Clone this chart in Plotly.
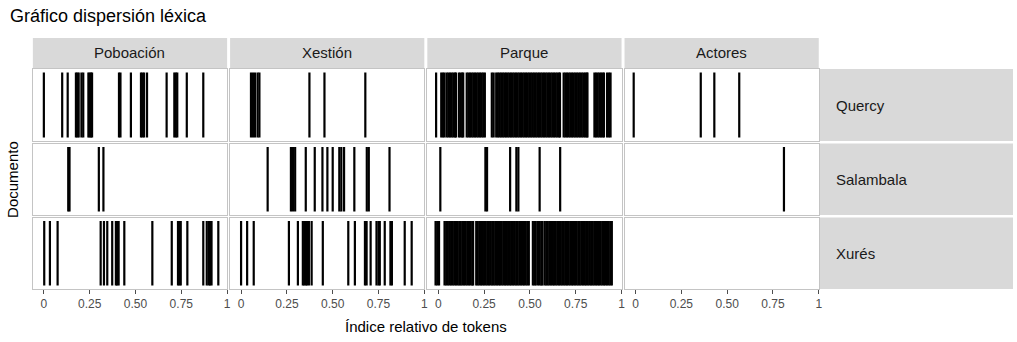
import plotly.graph_objects as go

W, H = 1017, 342

terms = ["Poboación", "Xestión", "Parque", "Actores"]
docs = ["Quercy", "Salambala", "Xurés"]
tick_vals = [0, 0.25, 0.5, 0.75, 1]
tick_text = ["0", "0.25", "0.50", "0.75", "1"]

# relative token positions per (document, term)
pob_quercy = [0.0, 0.10, 0.13, 0.175, 0.183, 0.19, 0.205, 0.215, 0.243, 0.25, 0.257, 0.263,
              0.41, 0.418, 0.475, 0.53, 0.538, 0.547, 0.563, 0.67, 0.712, 0.72, 0.728, 0.78, 0.87]
pob_salambala = [0.133, 0.14, 0.30, 0.325]
pob_xures = [0.002, 0.033, 0.075, 0.31, 0.328, 0.346, 0.373, 0.393, 0.40, 0.408, 0.439, 0.592,
             0.698, 0.732, 0.74, 0.747, 0.783, 0.87, 0.889, 0.90, 0.907, 0.915, 0.952]

xes_quercy = [0.054, 0.065, 0.076, 0.09, 0.10, 0.373, 0.455, 0.678]
xes_salambala = [0.145, 0.272, 0.283, 0.295, 0.353, 0.402, 0.444, 0.471, 0.5, 0.536, 0.547,
                 0.562, 0.618, 0.686, 0.697, 0.81]
xes_xures = [0.0, 0.033, 0.069, 0.261, 0.31, 0.337, 0.345, 0.353, 0.36, 0.37, 0.385, 0.446,
             0.585, 0.621, 0.676, 0.685, 0.707, 0.739, 0.75, 0.757, 0.784, 0.815, 0.823, 0.893, 0.931]

par_quercy = [-0.012,
              0.016, 0.025, 0.034, 0.046, 0.055, 0.064, 0.073, 0.082, 0.091, 0.096,
              0.112, 0.121, 0.130, 0.136,
              0.155, 0.164, 0.173, 0.182, 0.191, 0.200, 0.209, 0.218, 0.227, 0.236, 0.245, 0.254,
              0.292, 0.302,
              0.316, 0.325, 0.334, 0.343, 0.352, 0.361, 0.370, 0.379, 0.388, 0.397, 0.406, 0.415,
              0.424, 0.433, 0.442, 0.451, 0.460, 0.469, 0.478, 0.487, 0.496, 0.505, 0.514, 0.523,
              0.532, 0.541, 0.550, 0.559, 0.568, 0.577, 0.586, 0.595, 0.604, 0.613, 0.622, 0.631,
              0.640, 0.649, 0.658, 0.664,
              0.684, 0.693, 0.702, 0.711, 0.720, 0.729, 0.738, 0.747, 0.756, 0.765, 0.774, 0.783,
              0.792, 0.801, 0.810, 0.814,
              0.852, 0.861, 0.870, 0.879, 0.888, 0.897, 0.904,
              0.921, 0.931, 0.940]
par_salambala = [0.011, 0.257, 0.266, 0.392, 0.426, 0.437, 0.553, 0.665]
par_xures = [-0.015, -0.006, 0.004,
             0.034, 0.043, 0.052, 0.061, 0.070, 0.079, 0.088, 0.097, 0.106, 0.115, 0.122,
             0.131, 0.140, 0.149,
             0.158, 0.167, 0.176, 0.185, 0.190,
             0.207, 0.215, 0.224, 0.233, 0.241, 0.250, 0.259, 0.268, 0.276, 0.285, 0.294, 0.302,
             0.311, 0.320, 0.329, 0.337, 0.346, 0.355, 0.364, 0.372, 0.381, 0.390, 0.398, 0.407,
             0.416, 0.425, 0.433, 0.442, 0.451, 0.460, 0.468, 0.477, 0.486, 0.494,
             0.516, 0.525, 0.532,
             0.544, 0.553, 0.562, 0.568,
             0.580, 0.589, 0.597, 0.606, 0.615, 0.624, 0.632, 0.641, 0.650, 0.659, 0.667, 0.676,
             0.685, 0.694, 0.702, 0.711, 0.720, 0.729, 0.737, 0.746, 0.755, 0.764, 0.772, 0.781,
             0.790, 0.799, 0.807, 0.816, 0.825, 0.834, 0.842, 0.851, 0.860, 0.869, 0.877, 0.886,
             0.895, 0.904, 0.912, 0.921, 0.930, 0.939, 0.947]

act_quercy = [-0.01, 0.356, 0.43, 0.566]
act_salambala = [0.81]
act_xures = []

data = {
    ("Quercy", "Poboación"): pob_quercy,
    ("Salambala", "Poboación"): pob_salambala,
    ("Xurés", "Poboación"): pob_xures,
    ("Quercy", "Xestión"): xes_quercy,
    ("Salambala", "Xestión"): xes_salambala,
    ("Xurés", "Xestión"): xes_xures,
    ("Quercy", "Parque"): par_quercy,
    ("Salambala", "Parque"): par_salambala,
    ("Xurés", "Parque"): par_xures,
    ("Quercy", "Actores"): act_quercy,
    ("Salambala", "Actores"): act_salambala,
    ("Xurés", "Actores"): act_xures,
}

# layout in pixels
col_px = [(33, 228), (231, 426), (429, 624), (627, 822)]
row_px = [(69, 141), (143.5, 215), (217.5, 289)]
strip_top = (38, 68)
strip_right_x = (823, 1017)

def fx(px):
    return px / W

def fy(py):
    return 1 - py / H

FONT = "Liberation Sans, Arial, Helvetica, sans-serif"
border = "#C4C4C4"
strip_bg = "#D9D9D9"

fig = go.Figure()
layout = {}
shapes = []
annotations = []

for r, doc in enumerate(docs):
    for c, term in enumerate(terms):
        i = r * 4 + c + 1
        sfx = "" if i == 1 else str(i)
        vals = data[(doc, term)]
        xs, ys = [], []
        for v in vals:
            xs += [v, v, None]
            ys += [0.05, 0.95, None]
        fig.add_trace(go.Scatter(
            x=xs if xs else [None], y=ys if ys else [None], mode="lines",
            line=dict(color="black", width=2.2),
            xaxis="x" + sfx, yaxis="y" + sfx, showlegend=False, hoverinfo="skip"))
        bottom = (r == len(docs) - 1)
        layout["xaxis" + sfx] = dict(
            domain=[fx(col_px[c][0]), fx(col_px[c][1])],
            anchor="y" + sfx, range=[-0.06, 1.0], fixedrange=True,
            showgrid=False, zeroline=False,
            showline=True, mirror=True, linecolor=border, linewidth=1,
            tickmode="array", tickvals=tick_vals, ticktext=tick_text,
            ticks="outside" if bottom else "", ticklen=4, tickwidth=1, tickcolor="#4D4D4D",
            showticklabels=bottom,
            tickfont=dict(family=FONT, size=12, color="#4D4D4D"),
        )
        layout["yaxis" + sfx] = dict(
            domain=[fy(row_px[r][1]), fy(row_px[r][0])],
            anchor="x" + sfx, range=[0, 1], fixedrange=True,
            showgrid=False, zeroline=False, showticklabels=False, ticks="",
            showline=True, mirror=True, linecolor=border, linewidth=1,
        )

# top strips
for c, term in enumerate(terms):
    shapes.append(dict(type="rect", xref="paper", yref="paper",
                       x0=fx(col_px[c][0]), x1=fx(col_px[c][1]),
                       y0=fy(strip_top[1]), y1=fy(strip_top[0]),
                       fillcolor=strip_bg, line=dict(width=0), layer="below"))
    annotations.append(dict(xref="paper", yref="paper",
                            x=fx((col_px[c][0] + col_px[c][1]) / 2), y=fy(sum(strip_top) / 2),
                            text=term, showarrow=False, xanchor="center", yanchor="middle",
                            font=dict(family=FONT, size=15, color="#1A1A1A")))

# right strips
for r, doc in enumerate(docs):
    shapes.append(dict(type="rect", xref="paper", yref="paper",
                       x0=fx(strip_right_x[0]), x1=fx(strip_right_x[1]),
                       y0=fy(row_px[r][1]), y1=fy(row_px[r][0]),
                       fillcolor=strip_bg, line=dict(width=0), layer="below"))
    annotations.append(dict(xref="paper", yref="paper",
                            x=fx(837), y=fy(sum(row_px[r]) / 2),
                            text=doc, showarrow=False, xanchor="left", yanchor="middle",
                            font=dict(family=FONT, size=15, color="#1A1A1A")))

# titles
annotations.append(dict(xref="paper", yref="paper", x=fx(8), y=fy(16),
                        text="Gráfico dispersión léxica", showarrow=False,
                        xanchor="left", yanchor="middle",
                        font=dict(family=FONT, size=18, color="black")))
annotations.append(dict(xref="paper", yref="paper", x=fx(427.5), y=fy(326),
                        text="Índice relativo de tokens", showarrow=False,
                        xanchor="center", yanchor="middle",
                        font=dict(family=FONT, size=15, color="black")))
annotations.append(dict(xref="paper", yref="paper", x=fx(12), y=fy(179),
                        text="Documento", showarrow=False, textangle=-90,
                        xanchor="center", yanchor="middle",
                        font=dict(family=FONT, size=15, color="black")))

fig.update_layout(
    width=W, height=H,
    margin=dict(l=0, r=0, t=0, b=0),
    paper_bgcolor="white", plot_bgcolor="white",
    shapes=shapes, annotations=annotations,
    **layout,
)

fig.write_html("out.html", config={"displayModeBar": False},
               post_script="document.body.style.margin='0px';document.body.style.overflow='hidden';")
